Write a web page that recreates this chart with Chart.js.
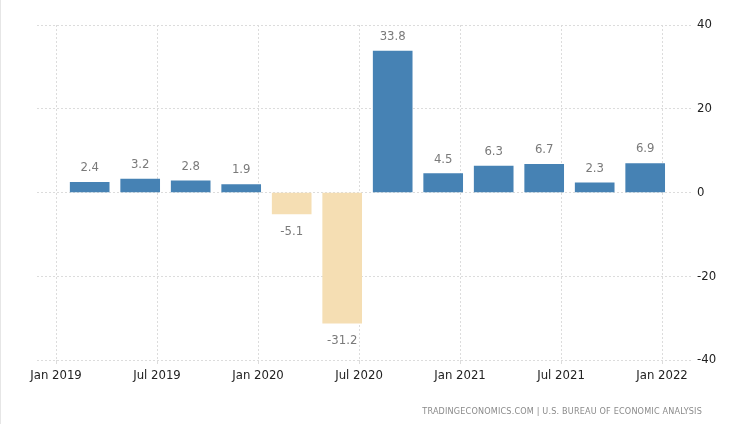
<!DOCTYPE html>
<html>
<head>
<meta charset="utf-8">
<script src="https://cdn.jsdelivr.net/npm/chart.js@4.4.0/dist/chart.umd.min.js"></script>
<style>
  html, body { margin: 0; padding: 0; background: #fff; }
  #wrap { position: relative; width: 733px; height: 424px; box-sizing: border-box; border-left: 1px solid #e6e6e6; }
  #source {
    position: absolute; right: 31px; top: 406px;
    font: 9px 'DejaVu Sans Condensed', sans-serif;
    letter-spacing: 0.18px; color: #8a8a8a; white-space: nowrap;
  }
</style>
</head>
<body>
<div id="wrap">
  <canvas id="gdpChart" width="732" height="424"></canvas>
  <div id="source">TRADINGECONOMICS.COM | U.S. BUREAU OF ECONOMIC ANALYSIS</div>
</div>
<script>
// US GDP growth rate (annualized, quarterly)
var quarterDates = ['2019-03', '2019-06', '2019-09', '2019-12', '2020-03', '2020-06',
                    '2020-09', '2020-12', '2021-03', '2021-06', '2021-09', '2021-12'];
var growthValues = [2.4, 3.2, 2.8, 1.9, -5.1, -31.2, 33.8, 4.5, 6.3, 6.7, 2.3, 6.9];
var xTickLabels = ['Jan 2019', 'Jul 2019', 'Jan 2020', 'Jul 2020', 'Jan 2021', 'Jul 2021', 'Jan 2022'];
var yTickValues = [-40, -20, 0, 20, 40];

var fontFam = "'DejaVu Sans Condensed', sans-serif";

// month offset from Jan 2019
function monthIndex(s) {
    var p = s.split('-');
    return (parseInt(p[0], 10) - 2019) * 12 + (parseInt(p[1], 10) - 1);
}

var barData = quarterDates.map(function (d, i) {
    return { x: monthIndex(d), y: growthValues[i] };
});

// draws value labels above / below bars
var valueLabels = {
    id: 'valueLabels',
    afterDatasetsDraw: function (chart) {
        var ctx = chart.ctx;
        var meta = chart.getDatasetMeta(0);
        ctx.save();
        ctx.font = '13px ' + fontFam;
        ctx.fillStyle = '#7a7a7a';
        ctx.textAlign = 'center';
        meta.data.forEach(function (bar, i) {
            var v = growthValues[i];
            if (v >= 0) {
                ctx.textBaseline = 'bottom';
                ctx.fillText(v.toFixed(1), bar.x, bar.y - 8);
            } else {
                ctx.textBaseline = 'top';
                ctx.fillText(v.toFixed(1), bar.x, bar.y + 11);
            }
        });
        ctx.restore();
    }
};

new Chart(document.getElementById('gdpChart'), {
    type: 'bar',
    data: {
        datasets: [{
            data: barData,
            backgroundColor: growthValues.map(function (v) { return v < 0 ? '#F5DEB3' : '#4682B4'; }),
            barThickness: 39
        }]
    },
    options: {
        responsive: false,
        animation: false,
        layout: { padding: { left: 36, top: 25, right: 0, bottom: 0 } },
        plugins: { legend: { display: false }, tooltip: { enabled: false } },
        scales: {
            x: {
                type: 'linear',
                offset: false,
                min: -1.13,
                max: 37.84,
                afterFit: function (scale) { scale.height = 64; },
                afterBuildTicks: function (scale) {
                    scale.ticks = xTickLabels.map(function (t, i) { return { value: i * 6 }; });
                },
                ticks: {
                    autoSkip: false,
                    maxRotation: 0,
                    padding: 4,
                    color: '#222',
                    font: { family: fontFam, size: 13 },
                    callback: function (v) { return xTickLabels[Math.round(v / 6)]; }
                },
                grid: { offset: false, color: '#dcdcdc', tickLength: 4, drawTicks: true },
                border: { display: false, dash: [2, 2] }
            },
            y: {
                position: 'right',
                min: -40,
                max: 40,
                afterFit: function (scale) { scale.width = 40; },
                afterBuildTicks: function (scale) {
                    scale.ticks = yTickValues.map(function (v) { return { value: v }; });
                },
                ticks: {
                    padding: 4,
                    color: '#222',
                    font: { family: fontFam, size: 13 }
                },
                grid: { color: '#dcdcdc', drawTicks: false },
                border: { display: false, dash: [2, 2] }
            }
        }
    },
    plugins: [valueLabels]
});
</script>
</body>
</html>
